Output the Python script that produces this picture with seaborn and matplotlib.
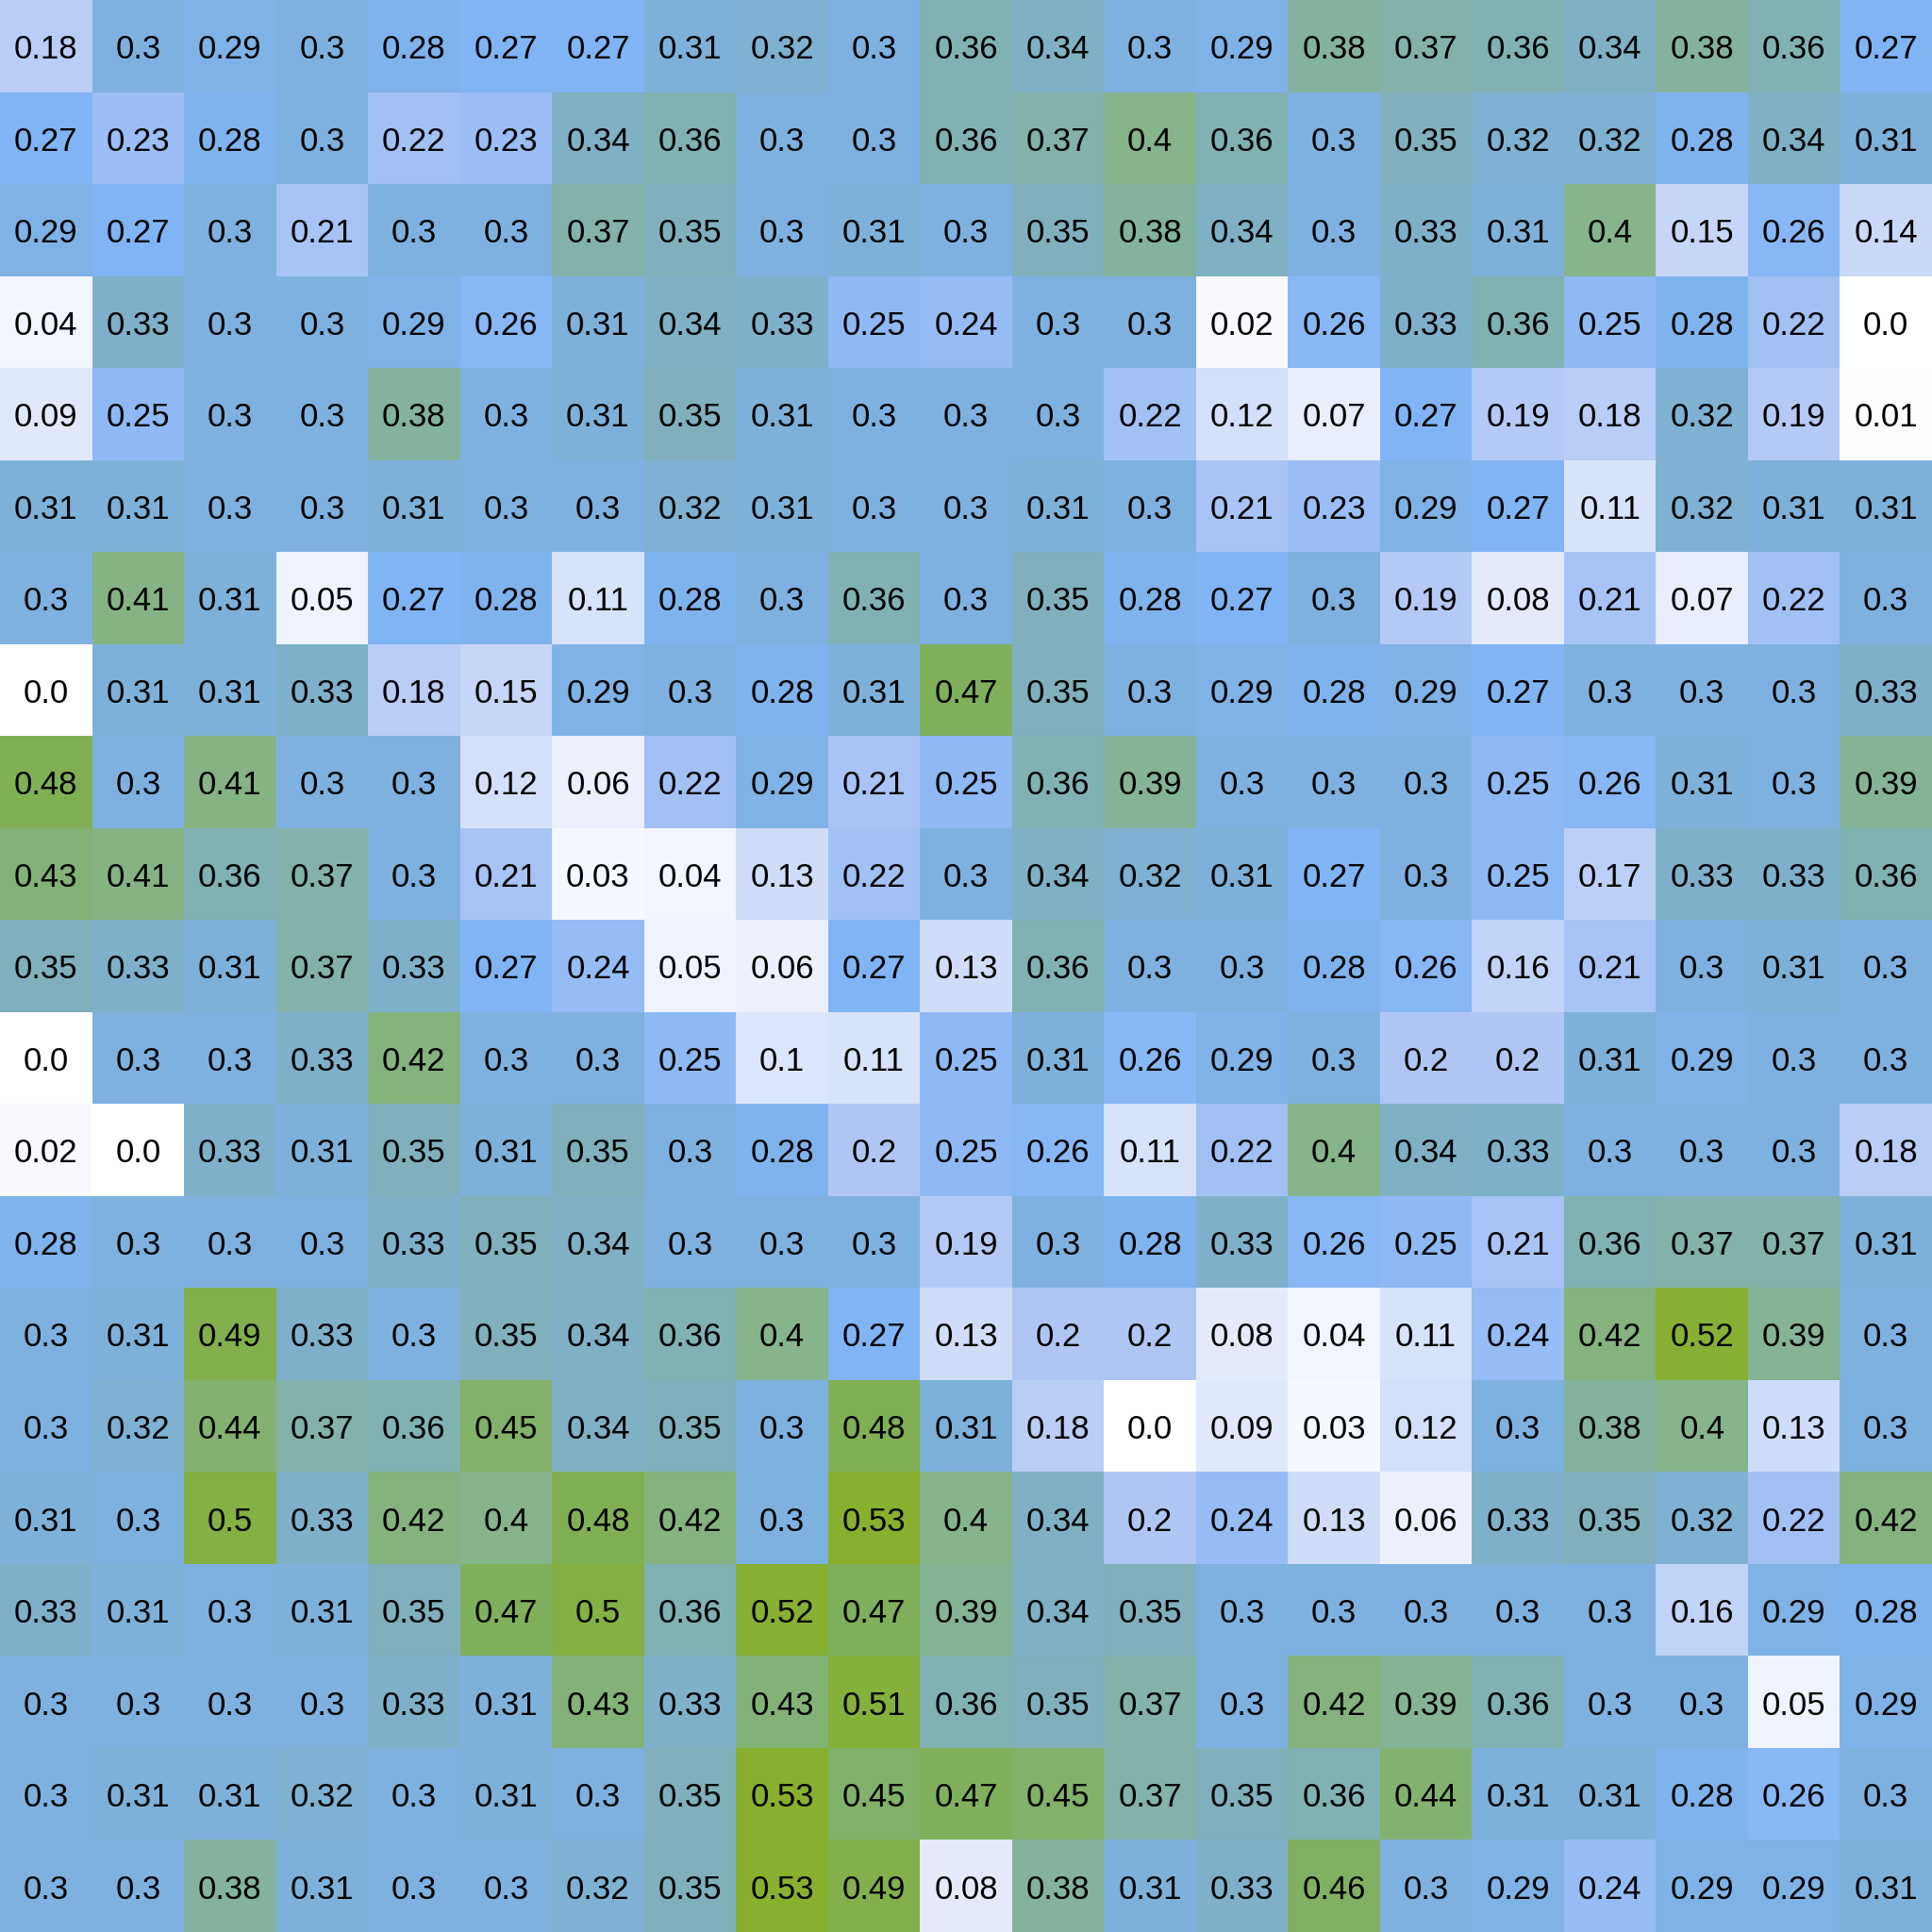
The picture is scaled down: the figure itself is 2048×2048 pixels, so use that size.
import numpy as np
import pandas as pd
import matplotlib
matplotlib.use("Agg")
import matplotlib.pyplot as plt
import seaborn as sns
from matplotlib.colors import LinearSegmentedColormap

# cell values, row by row (top to bottom)
row00 = [0.18, 0.3, 0.29, 0.3, 0.28, 0.27, 0.27, 0.31, 0.32, 0.3, 0.36, 0.34, 0.3, 0.29, 0.38, 0.37, 0.36, 0.34, 0.38, 0.36, 0.27]
row01 = [0.27, 0.23, 0.28, 0.3, 0.22, 0.23, 0.34, 0.36, 0.3, 0.3, 0.36, 0.37, 0.4, 0.36, 0.3, 0.35, 0.32, 0.32, 0.28, 0.34, 0.31]
row02 = [0.29, 0.27, 0.3, 0.21, 0.3, 0.3, 0.37, 0.35, 0.3, 0.31, 0.3, 0.35, 0.38, 0.34, 0.3, 0.33, 0.31, 0.4, 0.15, 0.26, 0.14]
row03 = [0.04, 0.33, 0.3, 0.3, 0.29, 0.26, 0.31, 0.34, 0.33, 0.25, 0.24, 0.3, 0.3, 0.02, 0.26, 0.33, 0.36, 0.25, 0.28, 0.22, 0.0]
row04 = [0.09, 0.25, 0.3, 0.3, 0.38, 0.3, 0.31, 0.35, 0.31, 0.3, 0.3, 0.3, 0.22, 0.12, 0.07, 0.27, 0.19, 0.18, 0.32, 0.19, 0.01]
row05 = [0.31, 0.31, 0.3, 0.3, 0.31, 0.3, 0.3, 0.32, 0.31, 0.3, 0.3, 0.31, 0.3, 0.21, 0.23, 0.29, 0.27, 0.11, 0.32, 0.31, 0.31]
row06 = [0.3, 0.41, 0.31, 0.05, 0.27, 0.28, 0.11, 0.28, 0.3, 0.36, 0.3, 0.35, 0.28, 0.27, 0.3, 0.19, 0.08, 0.21, 0.07, 0.22, 0.3]
row07 = [0.0, 0.31, 0.31, 0.33, 0.18, 0.15, 0.29, 0.3, 0.28, 0.31, 0.47, 0.35, 0.3, 0.29, 0.28, 0.29, 0.27, 0.3, 0.3, 0.3, 0.33]
row08 = [0.48, 0.3, 0.41, 0.3, 0.3, 0.12, 0.06, 0.22, 0.29, 0.21, 0.25, 0.36, 0.39, 0.3, 0.3, 0.3, 0.25, 0.26, 0.31, 0.3, 0.39]
row09 = [0.43, 0.41, 0.36, 0.37, 0.3, 0.21, 0.03, 0.04, 0.13, 0.22, 0.3, 0.34, 0.32, 0.31, 0.27, 0.3, 0.25, 0.17, 0.33, 0.33, 0.36]
row10 = [0.35, 0.33, 0.31, 0.37, 0.33, 0.27, 0.24, 0.05, 0.06, 0.27, 0.13, 0.36, 0.3, 0.3, 0.28, 0.26, 0.16, 0.21, 0.3, 0.31, 0.3]
row11 = [0.0, 0.3, 0.3, 0.33, 0.42, 0.3, 0.3, 0.25, 0.1, 0.11, 0.25, 0.31, 0.26, 0.29, 0.3, 0.2, 0.2, 0.31, 0.29, 0.3, 0.3]
row12 = [0.02, 0.0, 0.33, 0.31, 0.35, 0.31, 0.35, 0.3, 0.28, 0.2, 0.25, 0.26, 0.11, 0.22, 0.4, 0.34, 0.33, 0.3, 0.3, 0.3, 0.18]
row13 = [0.28, 0.3, 0.3, 0.3, 0.33, 0.35, 0.34, 0.3, 0.3, 0.3, 0.19, 0.3, 0.28, 0.33, 0.26, 0.25, 0.21, 0.36, 0.37, 0.37, 0.31]
row14 = [0.3, 0.31, 0.49, 0.33, 0.3, 0.35, 0.34, 0.36, 0.4, 0.27, 0.13, 0.2, 0.2, 0.08, 0.04, 0.11, 0.24, 0.42, 0.52, 0.39, 0.3]
row15 = [0.3, 0.32, 0.44, 0.37, 0.36, 0.45, 0.34, 0.35, 0.3, 0.48, 0.31, 0.18, 0.0, 0.09, 0.03, 0.12, 0.3, 0.38, 0.4, 0.13, 0.3]
row16 = [0.31, 0.3, 0.5, 0.33, 0.42, 0.4, 0.48, 0.42, 0.3, 0.53, 0.4, 0.34, 0.2, 0.24, 0.13, 0.06, 0.33, 0.35, 0.32, 0.22, 0.42]
row17 = [0.33, 0.31, 0.3, 0.31, 0.35, 0.47, 0.5, 0.36, 0.52, 0.47, 0.39, 0.34, 0.35, 0.3, 0.3, 0.3, 0.3, 0.3, 0.16, 0.29, 0.28]
row18 = [0.3, 0.3, 0.3, 0.3, 0.33, 0.31, 0.43, 0.33, 0.43, 0.51, 0.36, 0.35, 0.37, 0.3, 0.42, 0.39, 0.36, 0.3, 0.3, 0.05, 0.29]
row19 = [0.3, 0.31, 0.31, 0.32, 0.3, 0.31, 0.3, 0.35, 0.53, 0.45, 0.47, 0.45, 0.37, 0.35, 0.36, 0.44, 0.31, 0.31, 0.28, 0.26, 0.3]
row20 = [0.3, 0.3, 0.38, 0.31, 0.3, 0.3, 0.32, 0.35, 0.53, 0.49, 0.08, 0.38, 0.31, 0.33, 0.46, 0.3, 0.29, 0.24, 0.29, 0.29, 0.31]

rows = [row00, row01, row02, row03, row04, row05, row06, row07, row08, row09, row10,
        row11, row12, row13, row14, row15, row16, row17, row18, row19, row20]
grid = pd.DataFrame(np.array(rows))
labels = grid.map(lambda v: f"{v:g}" if v != 0 else "0.0")

# white -> light blue -> blue -> teal -> green -> yellow-green
stops = [
    (0.00, "#ffffff"),
    (0.10 / 0.53, "#dce6fa"),
    (0.20 / 0.53, "#afc6f5"),
    (0.27 / 0.53, "#80b4f4"),
    (0.30 / 0.53, "#7eb1e0"),
    (0.35 / 0.53, "#7fb0bc"),
    (0.40 / 0.53, "#86b48c"),
    (0.47 / 0.53, "#80b05c"),
    (1.00, "#88b02e"),
]
cmap = LinearSegmentedColormap.from_list("bluegreen", stops)

fig = plt.figure(figsize=(20.48, 20.48), dpi=100)
ax = fig.add_axes([0, 0, 1, 1])
sns.heatmap(grid, ax=ax, cmap=cmap, vmin=0, vmax=0.53, cbar=False,
            annot=labels, fmt="", square=False,
            annot_kws={"fontsize": 25, "color": "black", "family": "Liberation Sans"})
# nudge the labels down a touch, like the reference
for t in ax.texts:
    x, y = t.get_position()
    t.set_position((x, y + 0.04))
ax.set_axis_off()
fig.savefig("out.png", dpi=100)
